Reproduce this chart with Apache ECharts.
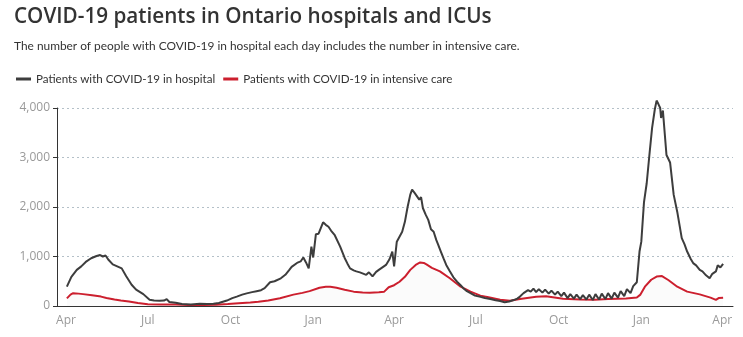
<!DOCTYPE html>
<html>
<head>
<meta charset="utf-8">
<script src="https://cdn.jsdelivr.net/npm/echarts@6/dist/echarts.min.js"></script>
<style>
html,body{margin:0;padding:0;background:#fff;}
#chart{width:743px;height:337px;}
</style>
</head>
<body>
<div id="chart"></div>
<script>
var titleText = 'COVID-19 patients in Ontario hospitals and ICUs';
var subtitleText = 'The number of people with COVID-19 in hospital each day includes the number in intensive care.';
var seriesNames = ['Patients with COVID-19 in hospital', 'Patients with COVID-19 in intensive care'];
var monthNames = ['Jan','Feb','Mar','Apr','May','Jun','Jul','Aug','Sep','Oct','Nov','Dec'];
var xTickDates = ['2020-04-01','2020-07-01','2020-10-01','2021-01-01','2021-04-01','2021-07-01','2021-10-01','2022-01-01','2022-04-01'];
var yTicks = [0, 1000, 2000, 3000, 4000];

var hospDates = [
'2020-04-02','2020-04-07','2020-04-13','2020-04-18','2020-04-23','2020-04-29','2020-05-05','2020-05-09','2020-05-12','2020-05-15','2020-05-18','2020-05-23','2020-05-28','2020-06-02','2020-06-07','2020-06-13','2020-06-18','2020-06-26',
'2020-07-03','2020-07-08','2020-07-14','2020-07-19','2020-07-22','2020-07-25','2020-08-01','2020-08-08','2020-08-18','2020-08-28','2020-09-05','2020-09-12','2020-09-18','2020-09-27',
'2020-10-03','2020-10-08','2020-10-14','2020-10-19','2020-10-25','2020-10-30','2020-11-04','2020-11-08','2020-11-14','2020-11-19','2020-11-21','2020-11-26','2020-12-01','2020-12-05','2020-12-08','2020-12-14','2020-12-18','2020-12-21','2020-12-24','2020-12-27','2020-12-30',
'2021-01-01','2021-01-04','2021-01-07','2021-01-12','2021-01-15','2021-01-18','2021-01-21','2021-01-25','2021-01-31','2021-02-05','2021-02-08','2021-02-11','2021-02-15','2021-02-18','2021-02-22','2021-03-01','2021-03-04','2021-03-08','2021-03-12','2021-03-15','2021-03-19','2021-03-23','2021-03-27','2021-03-30',
'2021-04-01','2021-04-04','2021-04-07','2021-04-10','2021-04-13','2021-04-16','2021-04-19','2021-04-21','2021-04-24','2021-04-26','2021-04-29','2021-05-01','2021-05-03','2021-05-06','2021-05-09','2021-05-12','2021-05-15','2021-05-18','2021-05-20','2021-05-23','2021-05-26','2021-05-29','2021-06-02','2021-06-06','2021-06-10','2021-06-14','2021-06-17','2021-06-21','2021-06-25','2021-06-30',
'2021-07-06','2021-07-11','2021-07-17','2021-07-23','2021-07-28','2021-08-02','2021-08-07','2021-08-12','2021-08-16','2021-08-19','2021-08-23','2021-08-28','2021-08-31','2021-09-03','2021-09-06','2021-09-09','2021-09-13','2021-09-16','2021-09-20','2021-09-23','2021-09-27','2021-09-30',
'2021-10-04','2021-10-07','2021-10-11','2021-10-14','2021-10-18','2021-10-21','2021-10-25','2021-10-28','2021-11-01','2021-11-04','2021-11-08','2021-11-11','2021-11-15','2021-11-18','2021-11-22','2021-11-25','2021-11-29','2021-12-02','2021-12-06','2021-12-09','2021-12-13','2021-12-16','2021-12-20','2021-12-23','2021-12-27','2021-12-30',
'2022-01-01','2022-01-04','2022-01-07','2022-01-10','2022-01-13','2022-01-16','2022-01-18','2022-01-20','2022-01-22','2022-01-23','2022-01-25','2022-01-29','2022-02-02','2022-02-06','2022-02-10','2022-02-15','2022-02-18','2022-02-21','2022-02-25','2022-02-28','2022-03-03','2022-03-07','2022-03-10','2022-03-14','2022-03-18','2022-03-21','2022-03-23','2022-03-25','2022-03-27','2022-03-30','2022-04-02'
];
var hospValues = [
390,590,730,800,890,965,1010,1030,1000,1020,940,840,800,760,600,430,330,240,
125,110,105,110,140,80,65,40,30,45,40,45,60,110,
160,190,230,255,280,300,320,360,480,500,530,560,630,720,790,870,900,980,880,760,1200,
980,1450,1460,1690,1640,1600,1520,1430,1200,970,860,760,720,700,680,630,680,600,690,730,780,830,950,1100,
800,1300,1400,1500,1700,2000,2250,2350,2280,2310,2150,2200,1980,1850,1740,1550,1500,1330,1240,1100,960,830,700,580,490,420,360,300,260,210,
185,160,140,115,100,75,90,120,150,190,260,320,290,350,280,340,270,330,250,310,230,290,
200,270,160,240,150,230,140,220,130,230,120,240,130,250,140,260,150,270,170,300,200,340,260,400,480,1100,
1300,2100,2480,3050,3600,3970,4150,4080,4000,3800,3950,3050,2900,2250,1900,1370,1250,1100,950,860,820,730,700,620,560,650,650,700,820,780,850
];

var icuDates = [
'2020-04-02','2020-04-06','2020-04-09','2020-04-15','2020-04-20','2020-04-30','2020-05-10','2020-05-16','2020-05-25','2020-06-01','2020-06-10','2020-06-20','2020-07-01','2020-07-15','2020-08-01','2020-08-15','2020-09-01','2020-09-15','2020-09-28',
'2020-10-10','2020-10-23','2020-11-01','2020-11-12','2020-11-25','2020-12-10','2020-12-20','2020-12-28','2021-01-08','2021-01-15','2021-01-20','2021-01-27','2021-02-05','2021-02-15','2021-02-25','2021-03-05','2021-03-15','2021-03-21','2021-03-26',
'2021-04-01','2021-04-07','2021-04-13','2021-04-19','2021-04-25','2021-04-30','2021-05-04','2021-05-07','2021-05-13','2021-05-22','2021-06-02','2021-06-14','2021-06-25','2021-07-06','2021-07-15','2021-07-28','2021-08-08','2021-08-19','2021-09-06','2021-09-17',
'2021-10-06','2021-10-25','2021-11-10','2021-11-25','2021-12-15','2021-12-27','2021-12-31','2022-01-05','2022-01-12','2022-01-18','2022-01-24','2022-01-31','2022-02-10','2022-02-21','2022-03-07','2022-03-19','2022-03-25','2022-03-28','2022-04-02'
];
var icuValues = [
155,230,260,250,240,215,190,160,130,110,90,60,35,30,28,20,20,25,40,
55,70,85,110,155,230,265,300,370,390,390,370,330,290,275,270,280,290,380,
420,490,590,730,830,880,870,840,770,700,560,390,290,210,175,125,105,140,185,195,
145,130,125,140,150,170,230,390,530,595,605,525,390,290,235,170,125,160,165
];

function ts(s){ var p = s.split('-'); return Date.UTC(+p[0], +p[1] - 1, +p[2]); }
function pairs(d, v){ return d.map(function(x, i){ return [ts(x), v[i]]; }); }

var chart = echarts.init(document.getElementById('chart'), null, {renderer: 'canvas'});
var FONT = '"Open Sans", "Noto Sans", sans-serif';
var FONT2 = 'Lato, "Open Sans", sans-serif';
chart.setOption({
  animation: false,
  backgroundColor: '#fff',
  title: {
    text: titleText,
    subtext: subtitleText,
    left: 9,
    top: 2,
    itemGap: 12,
    textStyle: {fontFamily: FONT, fontSize: 20.7, fontWeight: 600, color: '#333'},
    subtextStyle: {fontFamily: FONT2, fontSize: 11.9, color: '#333'}
  },
  legend: {
    left: 11,
    top: 68,
    itemWidth: 15,
    itemHeight: 3,
    itemGap: 8,
    icon: 'rect',
    textStyle: {fontFamily: FONT2, fontSize: 11.6, color: '#333'},
    data: seriesNames
  },
  grid: {left: 57, right: 10, top: 108, bottom: 31, containLabel: false},
  xAxis: {
    type: 'value',
    min: ts('2020-03-22'),
    max: ts('2022-04-13'),
    axisLine: {show: true, lineStyle: {color: '#333', width: 1}},
    axisTick: {show: false},
    splitLine: {show: false},
    axisLabel: {
      customValues: xTickDates.map(ts),
      formatter: function(v){ return monthNames[new Date(v).getUTCMonth()]; },
      color: '#999',
      fontFamily: FONT,
      fontSize: 12,
      margin: 9
    }
  },
  yAxis: {
    type: 'value',
    min: 0,
    max: 4000,
    interval: 1000,
    axisLine: {show: true, lineStyle: {color: '#333', width: 1}},
    axisTick: {show: true, length: 4, lineStyle: {color: '#333'}},
    splitLine: {show: true, lineStyle: {color: '#b4c0c8', type: [2, 3], width: 1}},
    axisLabel: {
      color: '#999',
      fontFamily: FONT,
      fontSize: 12,
      margin: 7,
      formatter: function(v){ return yTicks.indexOf(v) >= 0 ? v.toLocaleString('en-US') : ''; }
    }
  },
  series: [
    {
      name: seriesNames[0],
      type: 'line',
      data: pairs(hospDates, hospValues),
      showSymbol: false,
      symbol: 'none',
      clip: false,
      lineStyle: {color: '#3d3d3d', width: 2},
      itemStyle: {color: '#3d3d3d'},
      z: 3
    },
    {
      name: seriesNames[1],
      type: 'line',
      data: pairs(icuDates, icuValues),
      showSymbol: false,
      symbol: 'none',
      lineStyle: {color: '#cc1f2e', width: 2},
      itemStyle: {color: '#cc1f2e'},
      areaStyle: {color: 'rgba(0,0,0,0.025)'},
      z: 2
    }
  ]
});
</script>
</body>
</html>
